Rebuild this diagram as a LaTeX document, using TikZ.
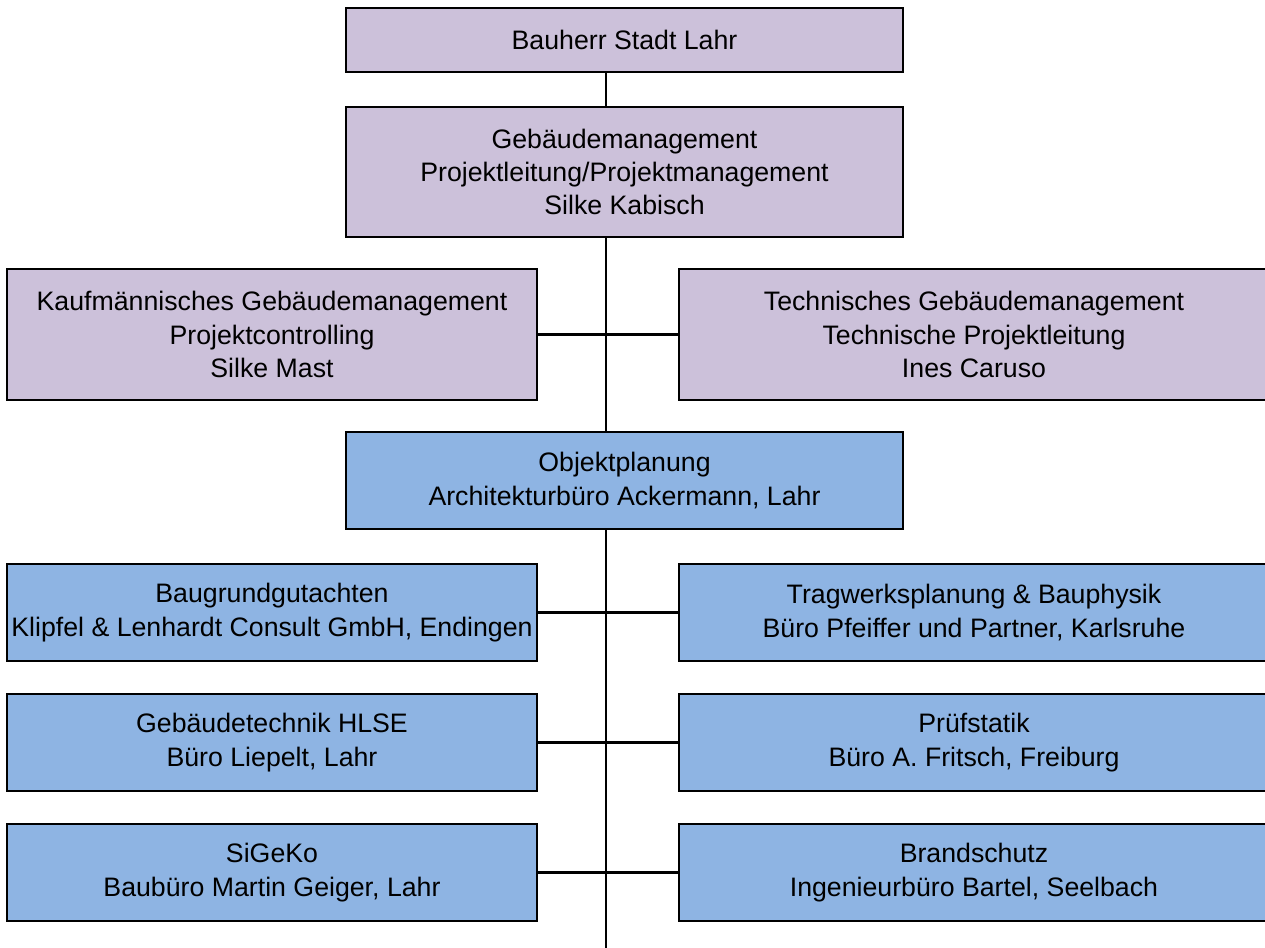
\documentclass[tikz,border=0pt]{standalone}
\usepackage{fontspec}
\setmainfont{Liberation Sans}
\usetikzlibrary{positioning}
\definecolor{lila}{RGB}{204,193,218}
\definecolor{blau}{RGB}{142,180,227}
\tikzset{
  blk/.style={draw,rectangle,line width=1.6pt,inner sep=0pt,outer sep=0pt,align=center,font=\fontsize{15.2}{19}\selectfont},
  lilablk/.style={blk,fill=lila},
  blaublk/.style={blk,fill=blau},
  midblk/.style={minimum width=11.14cm},
  lftblk/.style={minimum width=10.6cm,minimum height=1.94cm},
  rgtblk/.style={minimum width=11.8cm,minimum height=1.94cm},
  ln/.style={line width=1.4pt},
  thinln/.style={line width=1.1pt}
}
\begin{document}
\begin{tikzpicture}[node distance=0.7cm and 1.1cm]
  \useasboundingbox (0,0) rectangle (25.3,-18.96);
  \coordinate (spine) at (12.12,0);
  \coordinate (foot) at (12.12,-18.96);

  % Bauherr und Projektleitung
  \node[lilablk,midblk,minimum height=1.28cm] (bauherr) at (12.49,-0.80) {Bauherr Stadt Lahr};
  \node[lilablk,midblk,minimum height=2.60cm,below=0.70cm of bauherr] (gm) {Gebäudemanagement\\Projektleitung/Projektmanagement\\Silke Kabisch};
  \node[lilablk,lftblk,minimum height=2.62cm] (kfm) at (5.44,-6.69) {Kaufmännisches Gebäudemanagement\\Projektcontrolling\\Silke Mast};
  \node[lilablk,rgtblk,minimum height=2.62cm] (tech) at (19.48,-6.69) {Technisches Gebäudemanagement\\Technische Projektleitung\\Ines Caruso};

  % Planer
  \node[blaublk,midblk,minimum height=1.94cm,below=3.90cm of gm] (obj) {Objektplanung\\Architekturbüro Ackermann, Lahr};
  \node[blaublk,lftblk] (baugrund) at (5.44,-12.25) {Baugrundgutachten\\Klipfel \& Lenhardt Consult GmbH, Endingen};
  \node[blaublk,rgtblk] (trag) at (19.48,-12.25) {Tragwerksplanung \& Bauphysik\\Büro Pfeiffer und Partner, Karlsruhe};
  \node[blaublk,lftblk,below=0.66cm of baugrund] (hlse) {Gebäudetechnik HLSE\\Büro Liepelt, Lahr};
  \node[blaublk,rgtblk,below=0.66cm of trag] (pruef) {Prüfstatik\\Büro A. Fritsch, Freiburg};
  \node[blaublk,lftblk,below=0.66cm of hlse] (sigeko) {SiGeKo\\Baubüro Martin Geiger, Lahr};
  \node[blaublk,rgtblk,below=0.66cm of pruef] (brand) {Brandschutz\\Ingenieurbüro Bartel, Seelbach};

  \draw[ln] (bauherr.south -| spine) -- (gm.north -| spine);
  \draw[ln] (gm.south -| spine) -- (obj.north -| spine);
  \draw[thinln] (obj.south -| spine) -- (foot);
  \draw[ln] (kfm.east) -- (tech.west);
  \draw[ln] (baugrund.east) -- (trag.west);
  \draw[ln] (hlse.east) -- (pruef.west);
  \draw[ln] (sigeko.east) -- (brand.west);
\end{tikzpicture}
\end{document}
